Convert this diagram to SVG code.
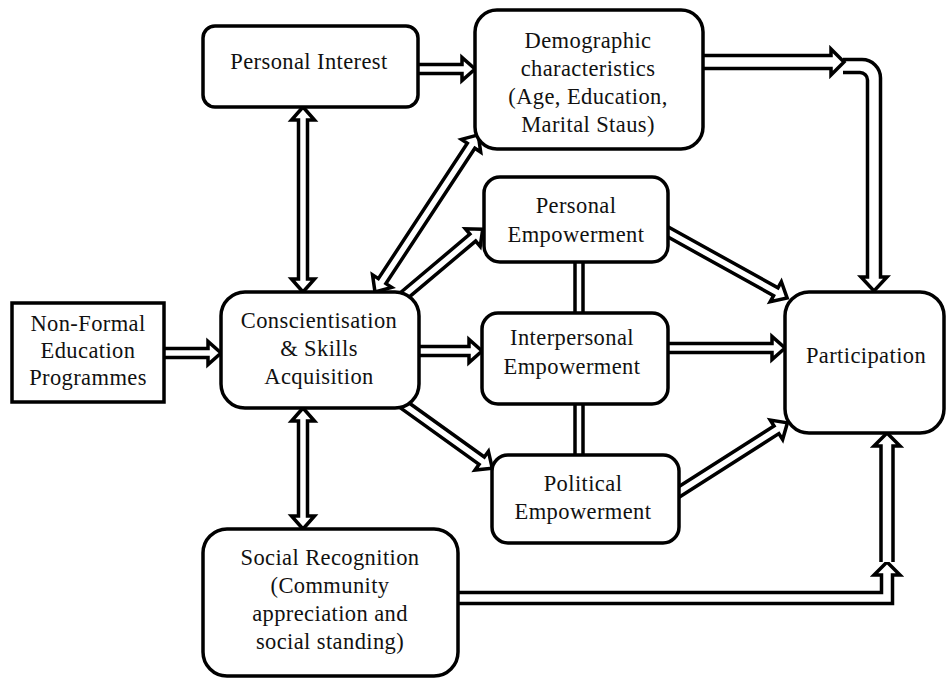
<svg xmlns="http://www.w3.org/2000/svg" width="947" height="681" viewBox="0 0 947 681">
<style>
.box{fill:#fff;stroke:#000;stroke-width:3.5}
.arr{fill:#fff;stroke:#000;stroke-width:3.5;stroke-linejoin:miter}
.ln{stroke:#000;stroke-width:3.5;fill:none}
text{font-family:"Liberation Serif","Times New Roman",serif;font-size:22.5px;letter-spacing:0.4px;fill:#111;text-anchor:middle}
</style>
<rect width="947" height="681" fill="#fff"/>
<g id="connectors">
  <path class="arr" transform="translate(164,353)" d="M-10,-4.5 H44 V-11.5 L57,0 L44,11.5 V4.5 H-10"/>
  <path class="arr" transform="translate(418,69)" d="M-10,-4.5 H44 V-11.5 L57,0 L44,11.5 V4.5 H-10"/>
  <path class="arr" transform="translate(303,107) rotate(90)" d="M13,-4.5 H172 V-11.5 L185,0 L172,11.5 V4.5 H13 V11.5 L0,0 L13,-11.5 Z"/>
  <path class="arr" transform="translate(303,408) rotate(90)" d="M13,-4.5 H108 V-11.5 L121,0 L108,11.5 V4.5 H13 V11.5 L0,0 L13,-11.5 Z"/>
  <path class="arr" transform="translate(375,292) rotate(-56.7)" d="M13,-4.5 H175 V-11.5 L188,0 L175,11.5 V4.5 H13 V11.5 L0,0 L13,-11.5 Z"/>
  <path class="arr" transform="translate(407,293) rotate(-40.1)" d="M-10,-4.5 H86 V-11.5 L99,0 L86,11.5 V4.5 H-10"/>
  <path class="arr" transform="translate(419,351)" d="M-10,-4.5 H50 V-11.5 L63,0 L50,11.5 V4.5 H-10"/>
  <path class="arr" transform="translate(407,407) rotate(35.7)" d="M-10,-4.5 H92 V-11.5 L105,0 L92,11.5 V4.5 H-10"/>
  <path class="arr" transform="translate(670,233) rotate(29.05)" d="M-10,-4.5 H121 V-11.5 L134,0 L121,11.5 V4.5 H-10"/>
  <path class="arr" transform="translate(668,348)" d="M-10,-4.5 H104 V-11.5 L117,0 L104,11.5 V4.5 H-10"/>
  <path class="arr" transform="translate(682,490) rotate(-32.5)" d="M-10,-4.5 H112 V-11.5 L125,0 L112,11.5 V4.5 H-10"/>
  <path class="arr" d="M843,59.5 H862 A18.5,18.5 0 0 1 880.5,78 V277 H887 L874,291 L861,277 H867.5 V80 A7.5,7.5 0 0 0 860,72.5 H843"/>
  <path class="arr" transform="translate(703,62)" d="M-10,-6.5 H128 V-13 L141,0 L128,13 V6.5 H-10"/>
  <path class="arr" d="M450,603.5 H892.5 V575 H900 L887,562 L874,575 H881.5 V592.5 H450"/>
  <path class="arr" transform="translate(887,562) rotate(-90)" d="M0,-6 H116 V-13 L129,0 L116,13 V6 H0"/>
  <line class="ln" x1="575" y1="262" x2="575" y2="313"/>
  <line class="ln" x1="583" y1="262" x2="583" y2="313"/>
  <line class="ln" x1="575" y1="404" x2="575" y2="455"/>
  <line class="ln" x1="583" y1="404" x2="583" y2="455"/>
</g>
<g id="nonformal">
  <rect class="box" x="12" y="303" width="152" height="99"/>
  <text x="88" y="331">Non-Formal</text>
  <text x="88" y="358">Education</text>
  <text x="88" y="385">Programmes</text>
</g>
<g id="personal-interest">
  <rect class="box" x="203" y="26" width="215" height="81" rx="12"/>
  <text x="309" y="69">Personal Interest</text>
</g>
<g id="demographic">
  <rect class="box" x="475" y="10" width="228" height="139" rx="22"/>
  <text x="588" y="48">Demographic</text>
  <text x="588" y="76">characteristics</text>
  <text x="588" y="104">(Age, Education,</text>
  <text x="588" y="132">Marital Staus)</text>
</g>
<g id="conscientisation">
  <rect class="box" x="221" y="292" width="198" height="116" rx="24"/>
  <text x="319" y="328">Conscientisation</text>
  <text x="319" y="356">&amp; Skills</text>
  <text x="319" y="384">Acquisition</text>
</g>
<g id="personal-empowerment">
  <rect class="box" x="484" y="177" width="184" height="85" rx="16"/>
  <text x="576" y="213">Personal</text>
  <text x="576" y="242">Empowerment</text>
</g>
<g id="interpersonal-empowerment">
  <rect class="box" x="482" y="313" width="186" height="91" rx="16"/>
  <text x="572" y="345">Interpersonal</text>
  <text x="572" y="374">Empowerment</text>
</g>
<g id="political-empowerment">
  <rect class="box" x="492" y="455" width="187" height="88" rx="16"/>
  <text x="583" y="491">Political</text>
  <text x="583" y="519">Empowerment</text>
</g>
<g id="participation">
  <rect class="box" x="785" y="292" width="159" height="141" rx="24"/>
  <text x="866" y="363">Participation</text>
</g>
<g id="social-recognition">
  <rect class="box" x="203" y="529" width="255" height="147" rx="24"/>
  <text x="330" y="565">Social Recognition</text>
  <text x="330" y="593">(Community</text>
  <text x="330" y="621">appreciation and</text>
  <text x="330" y="649">social standing)</text>
</g>
</svg>
